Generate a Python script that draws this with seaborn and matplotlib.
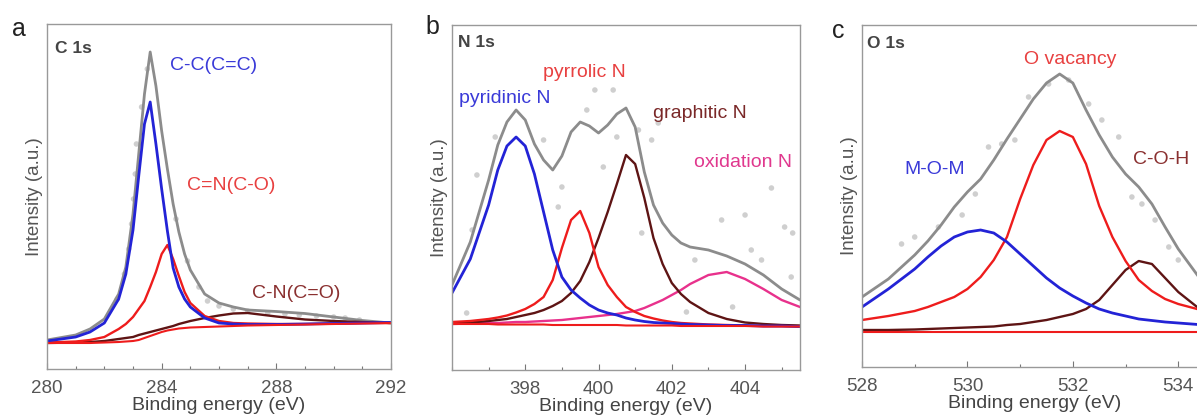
import matplotlib
matplotlib.use("Agg")
import matplotlib.pyplot as plt
from matplotlib.ticker import MultipleLocator, FixedLocator
import seaborn as sns

# ---- panel a: C 1s ----
c_energy = [280, 281, 281.5, 282, 282.5, 282.75, 283.0, 283.2, 283.4, 283.6, 283.8, 284.0, 284.2,
            284.4, 284.6, 284.8, 285.0, 285.5, 286, 286.5, 287, 288, 289, 290, 291, 292]
c_bg = [26, 26, 26, 26.5, 27, 27.5, 28, 29, 31, 33, 35, 37, 38.5, 39.5, 40.5, 41, 41.5, 42, 42.5, 43,
        43.5, 44, 44.5, 45, 45.5, 46]
c_cc = [28, 32, 37, 46, 70, 95, 139, 193, 245, 267, 225, 180, 138, 101, 82, 70, 62, 51, 46, 45,
        44.5, 44.5, 45, 45.5, 46, 46.5]
c_cn = [26.5, 27.5, 29, 32, 40, 45, 52, 60, 68, 82, 97, 115, 124, 110, 93, 77, 66, 53, 48, 46,
        45.5, 45, 45, 45.5, 46, 46]
c_cno = [26, 26.5, 27, 28, 30, 31, 32, 34, 35.5, 37, 38.5, 40, 41.5, 43, 45, 46.5, 48, 51, 53.5,
         55.5, 56, 52.5, 49.5, 48, 47, 46]
c_env = [29, 34, 40, 50, 75, 102, 155, 215, 275, 317, 283, 238, 200, 165, 137, 115, 99, 75, 66,
         62, 59, 57.5, 55.5, 52, 48.5, 46]
c_raw_e = [282.45, 282.7, 282.85, 282.95, 283.02, 283.08, 283.12, 283.3, 283.5, 284.5, 284.9,
           285.3, 285.6, 286.0, 286.5, 287.0, 287.7, 288.3, 288.8, 289.4, 290.0, 290.4, 290.9]
c_raw_i = [70, 95, 120, 145, 170, 195, 225, 262, 300, 150, 108, 82, 68, 63, 60, 58, 56, 55, 54,
           53, 52, 51, 49]

# ---- panel b: N 1s ----
n_energy = [396, 396.5, 397, 397.25, 397.5, 397.75, 398, 398.25, 398.5, 398.75, 399, 399.25,
            399.5, 399.75, 400, 400.25, 400.5, 400.75, 401, 401.25, 401.5, 401.75, 402, 402.25,
            402.5, 403, 403.5, 404, 404.5, 405, 405.5]
n_bg = [46, 46, 46, 45.5, 45.5, 45.5, 45.5, 45.5, 45.5, 45, 45, 45, 45, 45, 45, 45, 45, 44.5,
        44.5, 44.5, 44.5, 44.5, 44.5, 44, 44, 44, 44, 44, 43.5, 43.5, 43.5]
n_pyridinic = [77, 111, 165, 200, 224, 233, 224, 196, 158, 120, 93, 80, 72, 65, 60, 57, 55, 52,
               50, 48.5, 47.5, 47, 46.5, 46, 45.5, 45, 44.5, 44.5, 44, 44, 43.5]
n_pyrrolic = [48, 49, 51, 52.5, 54.5, 57.5, 61, 66, 73, 90, 122, 150, 159, 137, 103, 85, 73, 63,
              58, 54, 51.5, 49.5, 48, 47, 46.5, 45.5, 45, 44.5, 44, 44, 43.5]
n_graphitic = [47, 47.5, 49, 50, 51, 53, 55, 57, 60, 64, 69, 77, 89, 108, 132, 158, 186, 215,
               206, 172, 132, 106, 87, 76, 68, 57, 51, 47.5, 46, 45, 44.5]
n_oxidation = [46, 46.5, 47, 47, 47.5, 48, 48, 48.5, 49, 49.5, 50, 51, 52, 53, 54, 55, 56, 57.5,
               59, 62, 66, 70, 75, 80, 86, 95, 98, 91, 81, 70, 63]
n_env = [85, 128, 190, 225, 248, 260, 250, 226, 210, 200, 214, 238, 248, 244, 237, 245, 256, 262,
         243, 198, 165, 147, 135, 127, 123, 120, 114, 106, 95, 81, 70]
n_raw_e = [396.4, 396.55, 396.68, 397.18, 398.5, 398.9, 399.0, 399.68, 399.9, 400.13, 400.4,
           400.5, 401.09, 401.18, 401.45, 401.63, 402.4, 402.63, 403.36, 403.66, 404.0, 404.17,
           404.45, 404.72, 405.08, 405.26, 405.3]
n_raw_i = [57, 140, 195, 233, 230, 163, 183, 260, 280, 203, 280, 233, 240, 137, 230, 247, 58,
           110, 150, 63, 155, 120, 110, 182, 143, 93, 137]

# ---- panel c: O 1s ----
o_energy = [528, 528.5, 529, 529.25, 529.5, 529.75, 530, 530.25, 530.5, 530.75, 531, 531.25,
            531.5, 531.75, 532, 532.25, 532.5, 532.75, 533, 533.25, 533.5, 533.75, 534, 534.5]
o_bg = [35] * 24
o_mom = [60, 78, 98, 110, 121, 130, 135, 137, 134, 125, 113, 101, 89, 79, 71, 64, 58, 54, 51, 48,
         46.5, 45, 44, 42]
o_vac = [47, 51, 56, 60, 65, 70, 78, 90, 107, 130, 168, 202, 227, 236, 230, 203, 161, 130, 106,
         87, 76, 68, 63, 56]
o_coh = [37, 37, 37.5, 38, 38.5, 39, 39.5, 40, 40.5, 42, 43, 45, 47, 50, 53, 58, 67, 82, 97, 106,
         103, 89, 75, 54]
o_env = [70, 88, 112, 126, 142, 160, 175, 188, 207, 228, 248, 268, 284, 293, 284, 257, 232, 210,
         193, 180, 163, 140, 118, 82]
o_raw_e = [528.75, 529.0, 529.45, 529.9, 530.15, 530.4, 530.65, 530.9, 531.16, 531.54, 531.92,
           532.3, 532.55, 532.87, 533.12, 533.31, 533.56, 533.82, 534.0]
o_raw_i = [123, 130, 140, 152, 173, 220, 223, 227, 270, 283, 287, 263, 247, 230, 170, 163, 147,
           120, 107]

GREY = "#8c8c8c"
BLUE = "#2323d6"
RED = "#ee1c1c"
DRED = "#5e1414"
MAG = "#e8318c"

sns.set_theme(style="ticks")
plt.rcParams["font.family"] = ["Liberation Sans", "DejaVu Sans"]

fig = plt.figure(figsize=(11.97, 4.17), dpi=100)
ax_a = fig.add_axes([47 / 1197, 48 / 417, 344 / 1197, 345 / 417])
ax_b = fig.add_axes([452 / 1197, 47 / 417, 348 / 1197, 345 / 417])
ax_c = fig.add_axes([862 / 1197, 50 / 417, 369 / 1197, 342 / 417])


def curve(ax, x, y, color, lw=1.7):
    sns.lineplot(x=x, y=y, ax=ax, color=color, lw=lw, estimator=None, sort=False)


def raw(ax, x, y):
    sns.scatterplot(x=x, y=y, ax=ax, color="#c4c4c4", s=16, edgecolor="none", alpha=0.8,
                    zorder=1)


def style(ax, xlim, ylim, majors, minor):
    ax.set_xlim(*xlim)
    ax.set_ylim(*ylim)
    ax.set_yticks([])
    ax.xaxis.set_major_locator(FixedLocator(majors))
    ax.xaxis.set_minor_locator(MultipleLocator(minor))
    ax.tick_params(axis="x", which="major", direction="in", length=4, width=0.8,
                   color="#777777", labelsize=13.5, labelcolor="#555555", pad=8)
    ax.tick_params(axis="x", which="minor", direction="in", length=2.5, width=0.8,
                   color="#777777")
    for s in ax.spines.values():
        s.set_color("#999999")
        s.set_linewidth(1.0)
    ax.set_xlabel("Binding energy (eV)", fontsize=14, color="#444444", labelpad=0)
    ax.set_ylabel("Intensity (a.u.)", fontsize=13.5, color="#555555", labelpad=3)


# panel a
raw(ax_a, c_raw_e, c_raw_i)
curve(ax_a, c_energy, c_env, GREY, 2.0)
curve(ax_a, c_energy, c_cno, DRED)
curve(ax_a, c_energy, c_cn, RED)
curve(ax_a, c_energy, c_cc, BLUE, 2.0)
curve(ax_a, c_energy, c_bg, RED, 1.5)
style(ax_a, (280, 292), (0, 345), [280, 284, 288, 292], 1)
ax_a.text(280.28, 321, "C 1s", fontsize=12.5, color="#444444", fontweight="bold", va="center")
ax_a.text(285.8, 304, "C-C(C=C)", fontsize=14, color="#3a3ad8", ha="center", va="center")
ax_a.text(286.44, 184, "C=N(C-O)", fontsize=14, color="#e84040", ha="center", va="center")
ax_a.text(288.7, 76, "C-N(C=O)", fontsize=14, color="#8a3030", ha="center", va="center")

# panel b
raw(ax_b, n_raw_e, n_raw_i)
curve(ax_b, n_energy, n_env, GREY, 2.0)
curve(ax_b, n_energy, n_oxidation, MAG)
curve(ax_b, n_energy, n_graphitic, DRED)
curve(ax_b, n_energy, n_pyrrolic, RED)
curve(ax_b, n_energy, n_pyridinic, BLUE, 2.0)
curve(ax_b, n_energy, n_bg, RED, 1.5)
style(ax_b, (396, 405.5), (0, 345), [398, 400, 402, 404], 1)
ax_b.text(396.16, 328, "N 1s", fontsize=12.5, color="#444444", fontweight="bold", va="center")
ax_b.text(399.62, 298, "pyrrolic N", fontsize=14, color="#e84040", ha="center", va="center")
ax_b.text(397.44, 272, "pyridinic N", fontsize=14, color="#3a3ad8", ha="center", va="center")
ax_b.text(402.76, 257, "graphitic N", fontsize=14, color="#7a2828", ha="center", va="center")
ax_b.text(403.94, 208, "oxidation N", fontsize=14, color="#e0388e", ha="center", va="center")

# panel c (the right side of this panel is cut by the figure edge)
raw(ax_c, o_raw_e, o_raw_i)
curve(ax_c, o_energy, o_env, GREY, 2.0)
curve(ax_c, o_energy, o_coh, DRED)
curve(ax_c, o_energy, o_vac, RED)
curve(ax_c, o_energy, o_mom, BLUE, 2.0)
curve(ax_c, o_energy, o_bg, RED, 1.5)
style(ax_c, (528, 535), (0, 342), [528, 530, 532, 534], 1)
ax_c.xaxis.label.set_x((1035 - 862) / 369)
ax_c.text(528.1, 323, "O 1s", fontsize=12.5, color="#444444", fontweight="bold", va="center")
ax_c.text(531.94, 308, "O vacancy", fontsize=14, color="#e84040", ha="center", va="center")
ax_c.text(529.38, 197, "M-O-M", fontsize=14, color="#3a3ad8", ha="center", va="center")
ax_c.text(533.68, 207, "C-O-H", fontsize=14, color="#8a3030", ha="center", va="center")

for letter, px, py in [("a", 19, 29), ("b", 432, 27), ("c", 838, 31)]:
    fig.text(px / 1197, 1 - py / 417, letter, fontsize=18, color="#222222",
             ha="center", va="center")

fig.savefig("out.png", dpi=100)
